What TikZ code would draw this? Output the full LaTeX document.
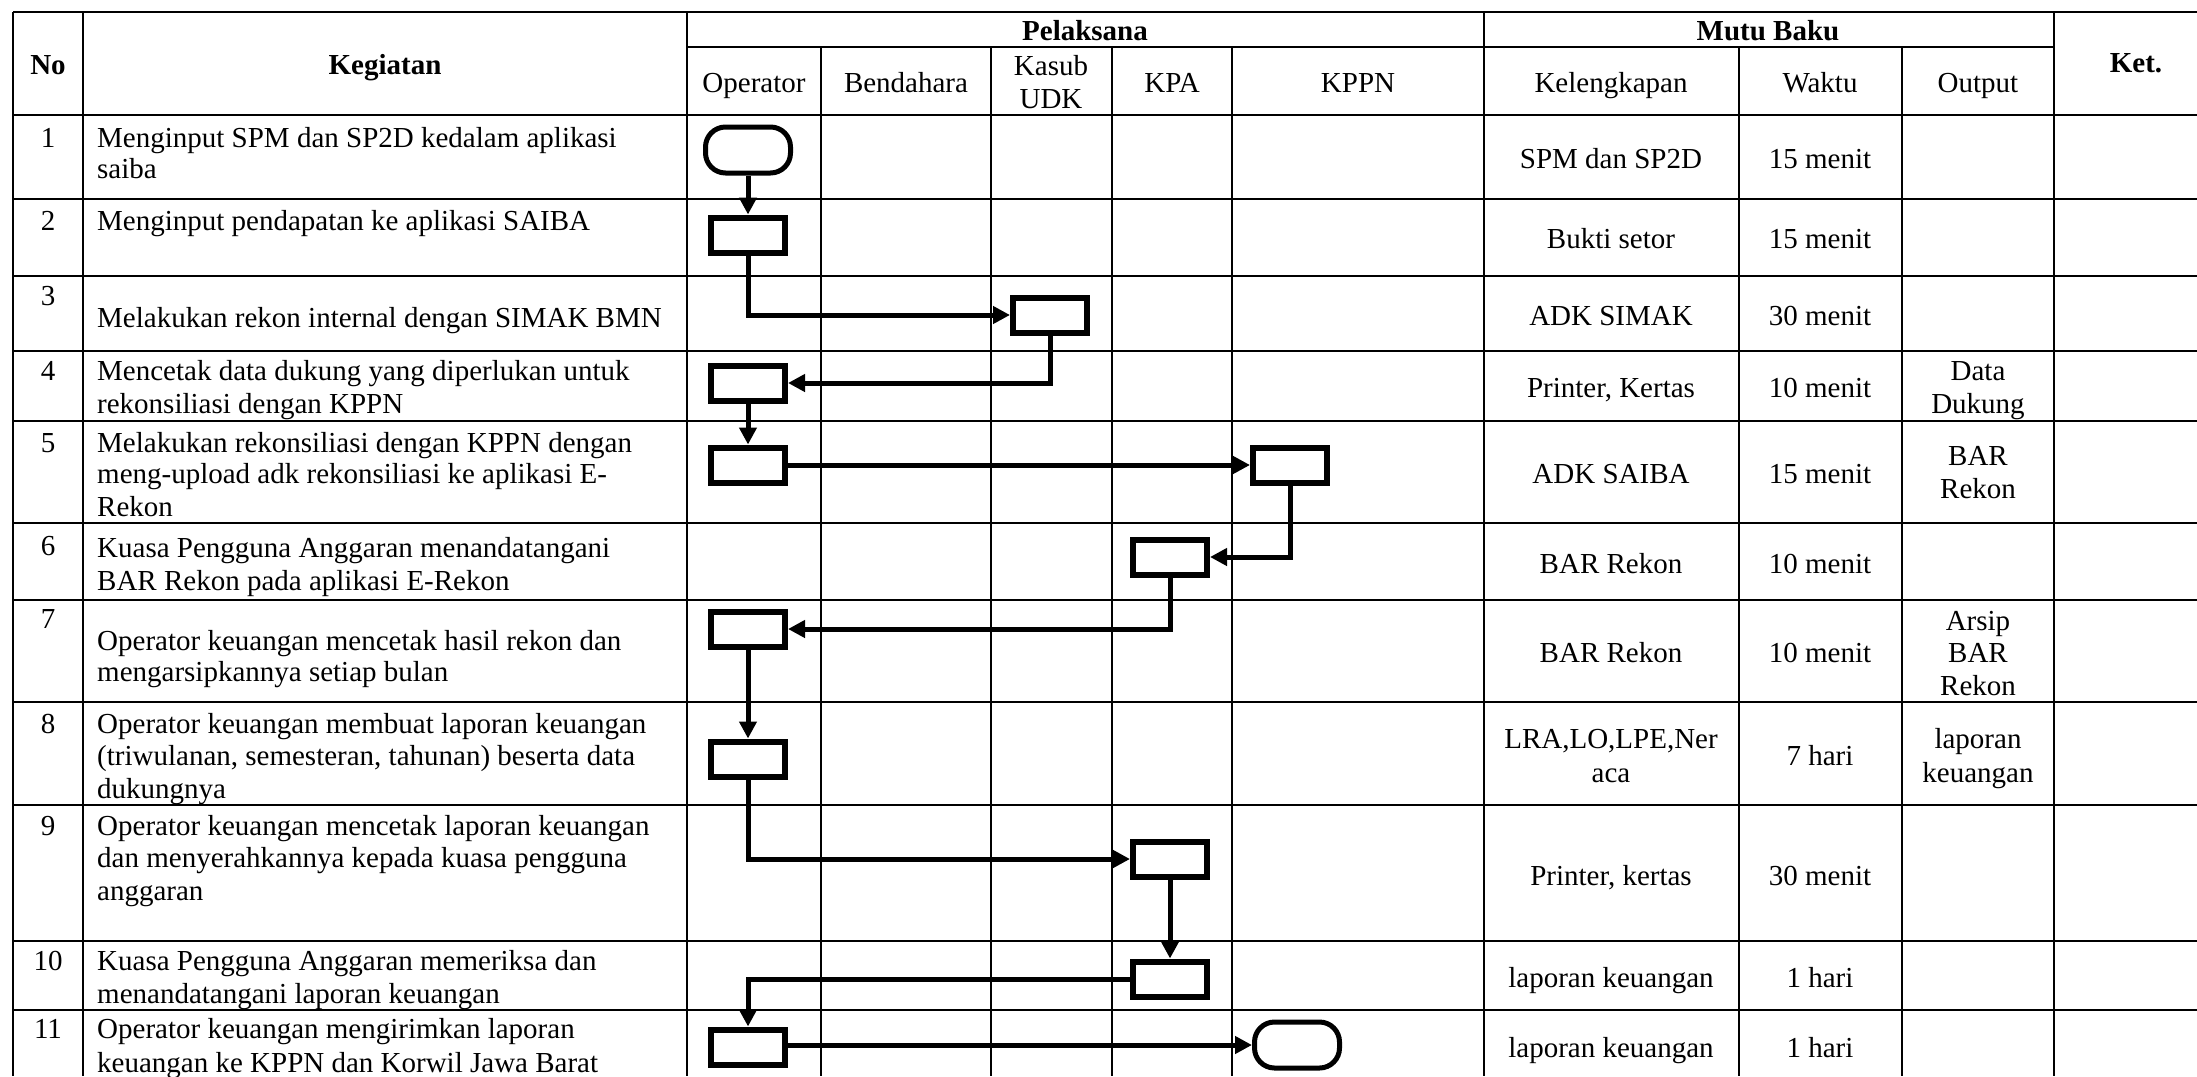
\documentclass[tikz,border=0pt]{standalone}
\usepackage{fontspec}
\setmainfont{Liberation Serif}
\usetikzlibrary{arrows.meta}
\begin{document}
\begin{tikzpicture}[x=1pt,y=-1pt,
  grid/.style={line width=1.5pt},
  txt/.style={inner sep=0pt, text height=20pt, text depth=0pt, font=\fontsize{29}{32}\selectfont},
  lt/.style={txt, anchor=west},
  hd/.style={txt, font=\fontsize{29}{32}\selectfont\bfseries},
  proc/.style={draw, fill=white, line width=6pt, minimum width=74pt, minimum height=35pt, inner sep=0pt},
  term/.style={draw, fill=white, line width=5pt, rounded corners=20pt, minimum width=85pt, minimum height=46pt, inner sep=0pt},
  arr/.style={line width=5pt, -{Triangle[length=17pt,width=17pt]}}
]
\useasboundingbox (0,0) rectangle (2197,1076);
\fill[white] (0,0) rectangle (2197,1076);
% grid
\draw[grid] (13,12) -- (2197,12);
\draw[grid] (687,47) -- (2054,47);
\draw[grid] (13,115) -- (2197,115);
\foreach \y in {199,276,351,421,523,600,702,805,941,1010} \draw[grid] (13,\y) -- (2197,\y);
\foreach \x in {13,83,687,1484,2054} \draw[grid] (\x,12) -- (\x,1076);
\foreach \x in {821,991,1112,1232,1739,1902} \draw[grid] (\x,47) -- (\x,1076);
% headers
\node[hd] (hno) at (48,64) {No};
\node[hd] (hkeg) at (385,64) {Kegiatan};
\node[hd] (hpel) at (1085,30) {Pelaksana};
\node[hd] (hmutu) at (1768,30) {Mutu Baku};
\node[hd] (hket) at (2136,62) {Ket.};
\node[txt] (hop) at (754,82) {Operator};
\node[txt] (hben) at (906,82) {Bendahara};
\node[txt] (hkas) at (1051,65) {Kasub};
\node[txt] (hudk) at (1051,98) {UDK};
\node[txt] (hkpa) at (1172,82) {KPA};
\node[txt] (hkppn) at (1358,82) {KPPN};
\node[txt] (hkel) at (1611,82) {Kelengkapan};
\node[txt] (hwak) at (1820,82) {Waktu};
\node[txt] (hout) at (1978,82) {Output};
% numbers
\node[txt] (n1) at (48,137) {1};
\node[txt] (n2) at (48,220) {2};
\node[txt] (n3) at (48,295) {3};
\node[txt] (n4) at (48,370) {4};
\node[txt] (n5) at (48,442) {5};
\node[txt] (n6) at (48,545) {6};
\node[txt] (n7) at (48,618) {7};
\node[txt] (n8) at (48,723) {8};
\node[txt] (n9) at (48,825) {9};
\node[txt] (n10) at (48,960) {10};
\node[txt] (n11) at (48,1028) {11};
% kegiatan
\node[lt] (k1a) at (97,137) {Menginput SPM dan SP2D kedalam aplikasi};
\node[lt] (k1b) at (97,168) {saiba};
\node[lt] (k2a) at (97,220) {Menginput pendapatan ke aplikasi SAIBA};
\node[lt] (k3a) at (97,317) {Melakukan rekon internal dengan SIMAK BMN};
\node[lt] (k4a) at (97,370) {Mencetak data dukung yang diperlukan untuk};
\node[lt] (k4b) at (97,403) {rekonsiliasi dengan KPPN};
\node[lt] (k5a) at (97,442) {Melakukan rekonsiliasi dengan KPPN dengan};
\node[lt] (k5b) at (97,473) {meng-upload adk rekonsiliasi ke aplikasi E-};
\node[lt] (k5c) at (97,506) {Rekon};
\node[lt] (k6a) at (97,547) {Kuasa Pengguna Anggaran menandatangani};
\node[lt] (k6b) at (97,580) {BAR Rekon pada aplikasi E-Rekon};
\node[lt] (k7a) at (97,640) {Operator keuangan mencetak hasil rekon dan};
\node[lt] (k7b) at (97,671) {mengarsipkannya setiap bulan};
\node[lt] (k8a) at (97,723) {Operator keuangan membuat laporan keuangan};
\node[lt] (k8b) at (97,755) {(triwulanan, semesteran, tahunan) beserta data};
\node[lt] (k8c) at (97,788) {dukungnya};
\node[lt] (k9a) at (97,825) {Operator keuangan mencetak laporan keuangan};
\node[lt] (k9b) at (97,857) {dan menyerahkannya kepada kuasa pengguna};
\node[lt] (k9c) at (97,890) {anggaran};
\node[lt] (k10a) at (97,960) {Kuasa Pengguna Anggaran memeriksa dan};
\node[lt] (k10b) at (97,993) {menandatangani laporan keuangan};
\node[lt] (k11a) at (97,1028) {Operator keuangan mengirimkan laporan};
\node[lt] (k11b) at (97,1062) {keuangan ke KPPN dan Korwil Jawa Barat};
% mutu baku
\node[txt] (c1) at (1611,158) {SPM dan SP2D};
\node[txt] (w1) at (1820,158) {15 menit};
\node[txt] (c2) at (1611,238) {Bukti setor};
\node[txt] (w2) at (1820,238) {15 menit};
\node[txt] (c3) at (1611,315) {ADK SIMAK};
\node[txt] (w3) at (1820,315) {30 menit};
\node[txt] (c4) at (1611,387) {Printer, Kertas};
\node[txt] (w4) at (1820,387) {10 menit};
\node[txt] (o4a) at (1978,370) {Data};
\node[txt] (o4b) at (1978,403) {Dukung};
\node[txt] (c5) at (1611,473) {ADK SAIBA};
\node[txt] (w5) at (1820,473) {15 menit};
\node[txt] (o5a) at (1978,455) {BAR};
\node[txt] (o5b) at (1978,488) {Rekon};
\node[txt] (c6) at (1611,563) {BAR Rekon};
\node[txt] (w6) at (1820,563) {10 menit};
\node[txt] (c7) at (1611,652) {BAR Rekon};
\node[txt] (w7) at (1820,652) {10 menit};
\node[txt] (o7a) at (1978,620) {Arsip};
\node[txt] (o7b) at (1978,652) {BAR};
\node[txt] (o7c) at (1978,685) {Rekon};
\node[txt] (c8a) at (1611,738) {LRA,LO,LPE,Ner};
\node[txt] (c8b) at (1611,772) {aca};
\node[txt] (w8) at (1820,755) {7 hari};
\node[txt] (o8a) at (1978,738) {laporan};
\node[txt] (o8b) at (1978,772) {keuangan};
\node[txt] (c9) at (1611,875) {Printer, kertas};
\node[txt] (w9) at (1820,875) {30 menit};
\node[txt] (c10) at (1611,977) {laporan keuangan};
\node[txt] (w10) at (1820,977) {1 hari};
\node[txt] (c11) at (1611,1047) {laporan keuangan};
\node[txt] (w11) at (1820,1047) {1 hari};
% flow shapes
\node[term] (t1) at (748,150) {};
\node[proc] (b2) at (748,235) {};
\node[proc] (b3) at (1050,315) {};
\node[proc] (b4) at (748,383) {};
\node[proc] (b5) at (748,465) {};
\node[proc] (b6) at (1290,465) {};
\node[proc] (b7) at (1170,557) {};
\node[proc] (b8) at (748,629) {};
\node[proc] (b9) at (748,759) {};
\node[proc] (b10) at (1170,859) {};
\node[proc] (b11) at (1170,979) {};
\node[proc] (b12) at (748,1047) {};
\node[term] (t2) at (1297,1045) {};
% connectors
\draw[arr] (t1) -- (b2);
\draw[arr] (b2.south) |- (b3.west);
\draw[arr] (b3.south) |- (b4.east);
\draw[arr] (b4) -- (b5);
\draw[arr] (b5) -- (b6);
\draw[arr] (b6.south) |- (b7.east);
\draw[arr] (b7.south) |- (b8.east);
\draw[arr] (b8) -- (b9);
\draw[arr] (b9.south) |- (b10.west);
\draw[arr] (b10) -- (b11);
\draw[arr] (b11.west) -| (b12.north);
\draw[arr] (b12.east |- t2.west) -- (t2.west);
\end{tikzpicture}
\end{document}
